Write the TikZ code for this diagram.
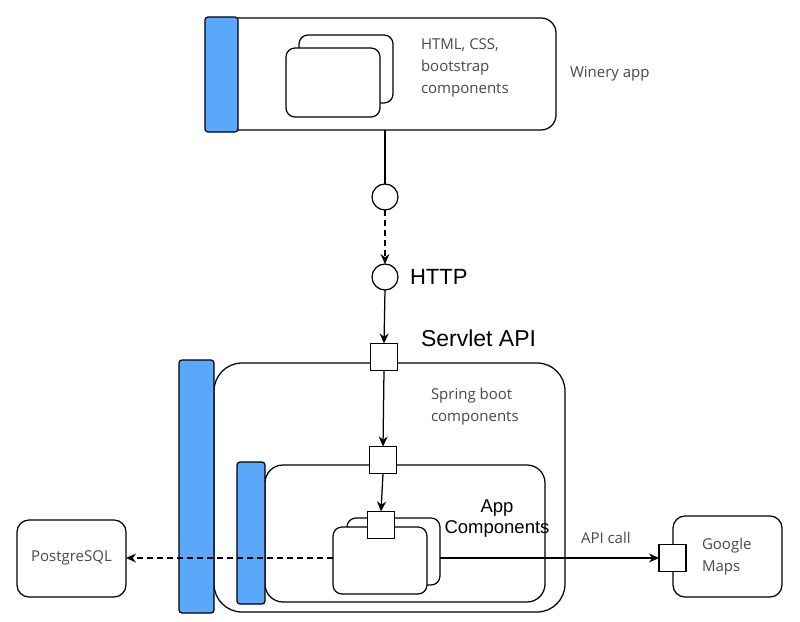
\documentclass[tikz,border=0pt]{standalone}
\usepackage{fontspec}
\setmainfont{Open Sans}
\newfontfamily\arialfont{Liberation Sans}
\usetikzlibrary{arrows.meta}
\definecolor{barblue}{RGB}{91,168,250}
\definecolor{txtgray}{RGB}{72,72,72}
\begin{document}
\begin{tikzpicture}[x=1pt,y=-1pt,
  every node/.style={inner sep=0pt, outer sep=0pt},
  ln/.style={line width=1.25pt},
  box/.style={draw, ln, fill=white, anchor=north west},
  bar/.style={draw, ln, fill=barblue, rounded corners=3pt, anchor=north west},
  port/.style={draw, ln, fill=white, minimum size=27pt},
  iface/.style={draw, ln, fill=white, circle, minimum size=26pt},
  graytxt/.style={text=txtgray, font=\fontsize{15}{22}\selectfont, align=left},
  bigtxt/.style={font=\arialfont\fontsize{22}{24}\selectfont},
  midtxt/.style={font=\arialfont\fontsize{18.5}{21}\selectfont, align=center},
  arr/.style={ln, -{Stealth[length=10pt,width=9pt]}},
  dsh/.style={dash pattern=on 6pt off 4pt}
]
\useasboundingbox (0,0) rectangle (800,621);

% Winery app
\node[box, rounded corners=15pt, minimum width=348pt, minimum height=112pt] (winery) at (208,18) {};
\node[bar, minimum width=33pt, minimum height=115pt] (wbar) at (205,17) {};
\node[box, rounded corners=9pt, minimum width=94pt, minimum height=68pt] (wback) at (299,35) {};
\node[box, rounded corners=9pt, minimum width=94pt, minimum height=69pt] (wfront) at (286,48) {};
\node[graytxt, anchor=west] (wtxt) at (421,68) {HTML, CSS,\\bootstrap\\components};
\node[graytxt, anchor=west] (wlabel) at (570,74) {Winery app};

% interfaces
\node[iface] (c1) at (385,197) {};
\node[iface] (c2) at (385,277) {};
\node[bigtxt, anchor=west] (http) at (410,277) {HTTP};

% Spring boot container
\node[box, rounded corners=28pt, minimum width=351pt, minimum height=249pt] (spring) at (214,363) {};
\node[bar, minimum width=35pt, minimum height=253pt] (sbar) at (179,360) {};
\node[graytxt, anchor=west] (stxt) at (431,407) {Spring boot\\components};

% App container
\node[box, rounded corners=18pt, minimum width=280pt, minimum height=137pt] (app) at (265,465) {};
\node[bar, minimum width=28pt, minimum height=142pt] (abar) at (237,462) {};
\node[box, rounded corners=9pt, minimum width=93pt, minimum height=67pt] (aback) at (347,518) {};
\node[box, rounded corners=9pt, minimum width=94pt, minimum height=67pt] (afront) at (333,527) {};
\node[midtxt] (apptxt) at (497,519) {App\\Components};

% ports
\node[port] (sq1) at (384,357) {};
\node[bigtxt, anchor=west, font=\arialfont\fontsize{23}{24}\selectfont] (servlet) at (421,338) {Servlet API};
\node[port] (sq2) at (383,460) {};
\node[port] (sq3) at (381,525) {};

% external
\node[box, rounded corners=12pt, minimum width=109pt, minimum height=77pt] (pg) at (17,520) {};
\node[graytxt, anchor=center] (pgtxt) at (71.5,558) {PostgreSQL};
\node[box, rounded corners=12pt, minimum width=109pt, minimum height=81pt] (gm) at (673,516) {};
\node[port] (gsq) at (672.5,558) {};
\node[graytxt, anchor=west] (gmtxt) at (702,557) {Google\\Maps};
\node[graytxt, anchor=west] (apicall) at (581,538) {API call};

% connectors
\draw[ln] (c1 |- winery.south) -- (c1.north);
\draw[arr, dsh] (c1.south) -- (c2.north);
\draw[arr] (c2.south) -- (sq1.north);
\draw[arr] (sq1.south) -- (sq2.north);
\draw[arr] (sq2.south) -- (sq3.north);
\draw[arr, dsh] (afront.west |- gsq.west) -- (pg.east |- gsq.west);
\draw[arr] (aback.east |- gsq.west) -- (gsq.west);
\end{tikzpicture}
\end{document}
